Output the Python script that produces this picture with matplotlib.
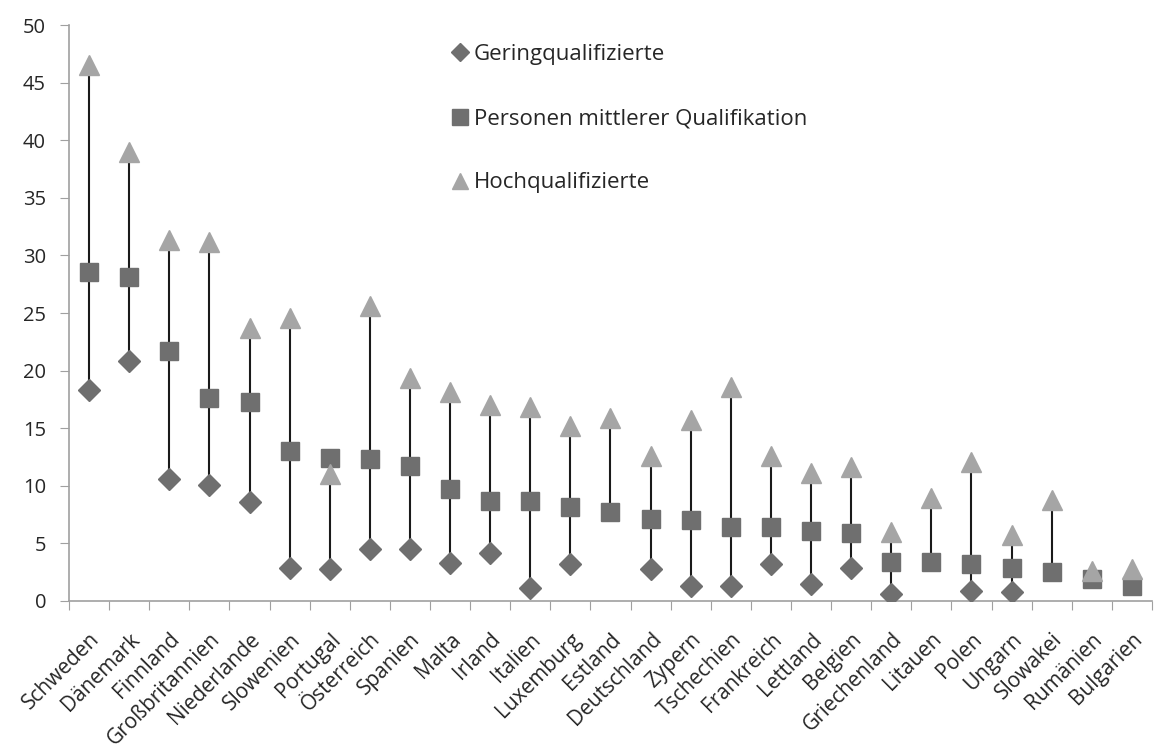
import matplotlib
matplotlib.use("Agg")
import matplotlib.pyplot as plt
import matplotlib.transforms as mtransforms
import numpy as np

countries = ["Schweden", "Dänemark", "Finnland", "Großbritannien", "Niederlande",
             "Slowenien", "Portugal", "Österreich", "Spanien", "Malta", "Irland",
             "Italien", "Luxemburg", "Estland", "Deutschland", "Zypern", "Tschechien",
             "Frankreich", "Lettland", "Belgien", "Griechenland", "Litauen", "Polen",
             "Ungarn", "Slowakei", "Rumänien", "Bulgarien"]

gering = [18.3, 20.8, 10.6, 10.1, 8.6, 2.9, 2.8, 4.5, 4.5, 3.3, 4.2, 1.1, 3.2, np.nan,
          2.8, 1.3, 1.3, 3.2, 1.5, 2.9, 0.6, np.nan, 0.9, 0.8, np.nan, np.nan, np.nan]
mittel = [28.6, 28.1, 21.7, 17.6, 17.3, 13.0, 12.4, 12.3, 11.7, 9.7, 8.7, 8.7, 8.2, 7.7,
          7.1, 7.0, 6.4, 6.4, 6.1, 5.9, 3.4, 3.4, 3.2, 2.9, 2.5, 1.9, 1.3]
hoch = [46.5, 39.0, 31.3, 31.2, 23.7, 24.6, 11.0, 25.6, 19.4, 18.1, 17.0, 16.8, 15.2, 15.9,
        12.6, 15.7, 18.6, 12.6, 11.1, 11.6, 6.0, 8.9, 12.1, 5.7, 8.8, 2.6, 2.8]
yticks = [0, 5, 10, 15, 20, 25, 30, 35, 40, 45, 50]

plt.rcParams['font.family'] = ['Open Sans', 'DejaVu Sans']

fig = plt.figure(figsize=(11.54, 7.51), dpi=100)
ax = fig.add_axes([69/1154, 1-601/751, 1083/1154, 576/751])

n = len(mittel)
x = np.arange(n)
g = np.array(gering, dtype=float)
m = np.array(mittel, dtype=float)
h = np.array(hoch, dtype=float)
stack = np.vstack([g, m, h])
lo = np.nanmin(stack, axis=0)
hi = np.nanmax(stack, axis=0)
ax.vlines(x, lo, hi, colors='#1a1a1a', linewidth=1.5, zorder=1)

dark = '#6f6f6f'
light = '#a5a5a5'
ax.plot(x, g, linestyle='none', marker='D', markersize=11, color=dark,
        markeredgecolor=dark, label='Geringqualifizierte', zorder=3)
ax.plot(x, m, linestyle='none', marker='s', markersize=13.5, color=dark,
        markeredgecolor=dark, label='Personen mittlerer Qualifikation', zorder=3)
ax.plot(x, h, linestyle='none', marker='^', markersize=14, color=light,
        markeredgecolor=light, label='Hochqualifizierte', zorder=4)

ax.set_xlim(-0.5, n - 0.5)
ax.set_ylim(0, 50)
ax.set_yticks(yticks)
ax.set_xticks(np.arange(n + 1) - 0.5)
ax.set_xticklabels([])
ax.set_xticks(x, minor=True)
labels = ax.set_xticklabels(countries, minor=True, rotation=45, ha='right',
                            rotation_mode='anchor', fontsize=15, color='#262626')
offset = mtransforms.ScaledTranslation(3/100, 0, fig.dpi_scale_trans)
for lab in labels:
    lab.set_transform(lab.get_transform() + offset)
ax.tick_params(axis='x', which='minor', length=0, pad=20)
ax.tick_params(axis='x', which='major', length=6.5, color='#a0a0a0', direction='out')
ax.tick_params(axis='y', length=6.5, color='#a0a0a0', labelsize=14.5,
               labelcolor='#262626', pad=10)

for s in ['top', 'right']:
    ax.spines[s].set_visible(False)
for s in ['left', 'bottom']:
    ax.spines[s].set_color('#a0a0a0')
    ax.spines[s].set_linewidth(1.2)

leg = ax.legend(loc='upper left', bbox_to_anchor=(0.345, 0.982), frameon=False,
                fontsize=16, labelspacing=1.94, handlelength=0.75,
                handletextpad=0.25, markerscale=0.85, borderaxespad=0)
for t in leg.get_texts():
    t.set_color('#262626')

fig.savefig('out.png', dpi=100)
